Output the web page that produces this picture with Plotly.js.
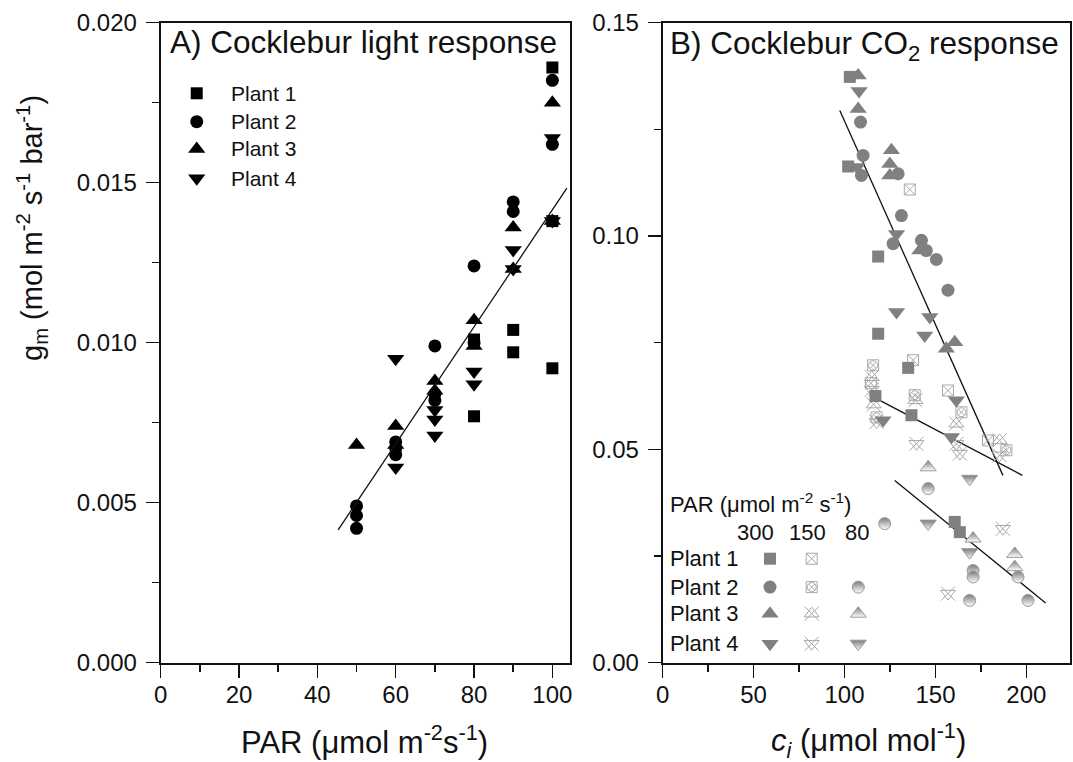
<!DOCTYPE html>
<html>
<head>
<meta charset="utf-8">
<script src="https://cdn.plot.ly/plotly-3.0.1.min.js"></script>
<style>html,body{margin:0;padding:0;background:#fff;}#chart{width:1073px;height:762px;}</style>
</head>
<body>
<div id="chart"></div>
<script>
// ---------- Panel A: light response (PAR vs gm) ----------
const plantNames = ['Plant 1', 'Plant 2', 'Plant 3', 'Plant 4'];
const A_P1_x = [100, 100, 100, 90, 90, 80, 80];
const A_P1_y = [0.0186, 0.0138, 0.0092, 0.0104, 0.0097, 0.0101, 0.0077];
const A_P2_x = [100, 100, 90, 90, 80, 80, 70, 70, 70, 60, 60, 60, 50, 50, 50];
const A_P2_y = [0.0182, 0.0162, 0.0144, 0.0141, 0.0124, 0.0100, 0.0099, 0.0084, 0.0082, 0.0069, 0.0067, 0.0065, 0.0049, 0.0046, 0.0042];
const A_P3_x = [100, 100, 90, 90, 80, 80, 70, 70, 60, 60, 50];
const A_P3_y = [0.0175, 0.0138, 0.0136, 0.0123, 0.0107, 0.0099, 0.0088, 0.0085, 0.0074, 0.0068, 0.0068];
const A_P4_x = [100, 100, 90, 90, 80, 80, 70, 70, 70, 60, 60];
const A_P4_y = [0.0164, 0.0138, 0.0129, 0.0123, 0.0091, 0.0087, 0.0079, 0.0076, 0.0071, 0.0095, 0.0061];
const fitA_x = [45.3, 103.7];
const fitA_y = [0.00415, 0.01483];

// ---------- Panel B: CO2 response (ci vs gm) ----------
const parLevels = ['300', '150', '80'];
// PAR 300
const B300_P1_x = [102.9, 102.0, 118.5, 118.5, 135.0, 117.0, 136.8, 160.6, 163.4];
const B300_P1_y = [0.1373, 0.1163, 0.0952, 0.0771, 0.0691, 0.0625, 0.0580, 0.0330, 0.0306];
const B300_P2_x = [108.8, 110.2, 109.3, 129.5, 131.3, 126.7, 142.3, 145.0, 150.5, 156.9];
const B300_P2_y = [0.1267, 0.1189, 0.1142, 0.1146, 0.1048, 0.0982, 0.0990, 0.0966, 0.0945, 0.0873];
const B300_P3_x = [107.5, 107.5, 125.8, 124.9, 124.9, 141.4, 160.6, 156.0];
const B300_P3_y = [0.1376, 0.1298, 0.1201, 0.1169, 0.1142, 0.0966, 0.0751, 0.0736];
const B300_P4_x = [108.0, 106.9, 128.6, 128.6, 146.9, 144.1, 161.5, 158.8, 121.2];
const B300_P4_y = [0.1340, 0.1162, 0.1005, 0.0822, 0.0810, 0.0767, 0.0615, 0.0529, 0.0568];
// PAR 150
const B150_P1_x = [135.9, 137.7, 156.9, 178.9, 114.5];
const B150_P1_y = [0.1109, 0.0709, 0.0638, 0.0521, 0.0655];
const B150_P2_x = [115.7, 138.6, 164.3, 189.0, 117.6];
const B150_P2_y = [0.0697, 0.0627, 0.0587, 0.0498, 0.0575];
const B150_P3_x = [115.0, 139.0, 161.5, 185.3, 116.0];
const B150_P3_y = [0.0669, 0.0615, 0.0560, 0.0521, 0.0605];
const B150_P4_x = [115.0, 117.6, 139.5, 163.4, 187.1, 156.9, 185.3, 161.5];
const B150_P4_y = [0.0640, 0.0564, 0.0513, 0.0490, 0.0314, 0.0162, 0.0486, 0.0513];
// PAR 80
const B80_P2_x = [146.0, 122.1, 170.7, 170.7, 195.4, 168.8, 200.9];
const B80_P2_y = [0.0408, 0.0326, 0.0216, 0.0201, 0.0201, 0.0146, 0.0146];
const B80_P3_x = [146.0, 170.7, 193.6, 193.6];
const B80_P3_y = [0.0458, 0.0291, 0.0255, 0.0224];
const B80_P4_x = [168.8, 146.0, 168.8];
const B80_P4_y = [0.0431, 0.0326, 0.0259];
const fitB1_x = [97.4, 187.1];
const fitB1_y = [0.1294, 0.0439];
const fitB2_x = [113.9, 197.8];
const fitB2_y = [0.0627, 0.0439];
const fitB3_x = [127.6, 210.6];
const fitB3_y = [0.0427, 0.0140];

// ---------- styles ----------
const FONT = 'Liberation Sans, Arial, Helvetica, sans-serif';
const NARROW = 'Liberation Sans Narrow, Arial Narrow, Liberation Sans, Arial, sans-serif';
const symA = ['square', 'circle', 'triangle-up', 'triangle-down'];
const sizeA = [12, 13, 15, 15];
const GRAY = '#808080';
const LGRAY = '#a8a8a8';
const HGRAY = '#9a9a9a';

function style300(i) {
  return [{symbol: symA[i], size: sizeA[i], color: GRAY, line: {width: 0}}];
}
function style150(i) {
  const base = {color: LGRAY, size: 12, line: {color: LGRAY, width: 1}};
  if (i === 0) return [Object.assign({}, base, {symbol: 'square-x-open', size: 11})];
  if (i === 1) return [Object.assign({}, base, {symbol: 'square-open', size: 11}),
                       Object.assign({}, base, {symbol: 'circle-x-open', size: 9})];
  if (i === 2) return [Object.assign({}, base, {symbol: 'triangle-up-open', size: 13}),
                       Object.assign({}, base, {symbol: 'x-thin-open', size: 14})];
  return [Object.assign({}, base, {symbol: 'triangle-down-open', size: 13}),
          Object.assign({}, base, {symbol: 'x-thin-open', size: 14})];
}
function style80(i) {
  return [{symbol: symA[i], size: sizeA[i] - 1, color: '#7a7a7a',
           gradient: {type: 'vertical', color: '#ffffff'},
           line: {color: HGRAY, width: 1}}];
}

const traces = [];
function addPoints(xs, ys, layers, xa, ya) {
  layers.forEach(m => traces.push({
    type: 'scatter', mode: 'markers', x: xs, y: ys, xaxis: xa, yaxis: ya,
    marker: m, showlegend: false, hoverinfo: 'skip', cliponaxis: false
  }));
}
function addLine(xs, ys, xa, ya) {
  traces.push({type: 'scatter', mode: 'lines', x: xs, y: ys, xaxis: xa, yaxis: ya,
    line: {color: '#111', width: 1.3}, showlegend: false, hoverinfo: 'skip'});
}

// Panel A
const A_x = [A_P1_x, A_P2_x, A_P3_x, A_P4_x];
const A_y = [A_P1_y, A_P2_y, A_P3_y, A_P4_y];
A_x.forEach((xs, i) => addPoints(xs, A_y[i], [{symbol: symA[i], size: sizeA[i], color: '#000'}], 'x', 'y'));
addLine(fitA_x, fitA_y, 'x', 'y');

// Panel B
addLine(fitB1_x, fitB1_y, 'x2', 'y2');
addLine(fitB2_x, fitB2_y, 'x2', 'y2');
addLine(fitB3_x, fitB3_y, 'x2', 'y2');
const B150x = [B150_P1_x, B150_P2_x, B150_P3_x, B150_P4_x];
const B150y = [B150_P1_y, B150_P2_y, B150_P3_y, B150_P4_y];
B150x.forEach((xs, i) => addPoints(xs, B150y[i], style150(i), 'x2', 'y2'));
const B80x = [null, B80_P2_x, B80_P3_x, B80_P4_x];
const B80y = [null, B80_P2_y, B80_P3_y, B80_P4_y];
B80x.forEach((xs, i) => { if (xs) addPoints(xs, B80y[i], style80(i), 'x2', 'y2'); });
const B300x = [B300_P1_x, B300_P2_x, B300_P3_x, B300_P4_x];
const B300y = [B300_P1_y, B300_P2_y, B300_P3_y, B300_P4_y];
B300x.forEach((xs, i) => addPoints(xs, B300y[i], style300(i), 'x2', 'y2'));

// ---------- legends (drawn on hidden overlay axes, fractions of panel) ----------
const legA_rows = [0.8897, 0.8453, 0.8027, 0.7569];
plantNames.forEach((n, i) => addPoints([0.088], [legA_rows[i]],
  [{symbol: symA[i], size: sizeA[i], color: '#000'}], 'x3', 'y3'));
const legB_rows = [0.1625, 0.1181, 0.0766, 0.0297];
const legB_cols = [0.2634, 0.3658, 0.4802];
plantNames.forEach((n, i) => {
  addPoints([legB_cols[0]], [legB_rows[i]], style300(i), 'x4', 'y4');
  addPoints([legB_cols[1]], [legB_rows[i]], style150(i), 'x4', 'y4');
  if (i > 0) addPoints([legB_cols[2]], [legB_rows[i]], style80(i), 'x4', 'y4');
});

const annotations = [];
function ann(text, x, y, opts) {
  annotations.push(Object.assign({text: text, x: x, y: y, xref: 'paper', yref: 'paper',
    showarrow: false, xanchor: 'left', yanchor: 'middle', font: {family: FONT, size: 22, color: '#111'}}, opts || {}));
}
plantNames.forEach((n, i) => ann(n, 0.1676, legA_rows[i], {xref: 'x3', yref: 'y3', font: {family: FONT, size: 21, color: '#111'}}));
plantNames.forEach((n, i) => ann(n, 0.0137, legB_rows[i], {xref: 'x4', yref: 'y4'}));
ann('PAR (μmol m<sup>-2</sup> s<sup>-1</sup>)', 0.0137, 0.249, {xref: 'x4', yref: 'y4'});
parLevels.forEach((p, k) => ann(p, [0.229, 0.3555, 0.4763][k], 0.204, {xref: 'x4', yref: 'y4', xanchor: 'center'}));

// titles
ann('A) Cocklebur light response', 168 / 1073, 1 - 42 / 762, {font: {family: FONT, size: 31.5, color: '#111'}});
ann('B) Cocklebur CO<sub>2</sub> response', 668 / 1073, 1 - 45 / 762, {font: {family: FONT, size: 31.5, color: '#111'}});
// axis titles
const TFONT = {family: NARROW, size: 31, color: '#111'};
ann('PAR (μmol m<sup>-2</sup>s<sup>-1</sup>)', 364 / 1073, 1 - 740 / 762, {xanchor: 'center', font: TFONT});
ann('<i>c</i><sub><i>i</i></sub> (μmol mol<sup>-1</sup>)', 868 / 1073, 1 - 740 / 762, {xanchor: 'center', font: TFONT});
ann('g<sub>m</sub> (mol m<sup>-2</sup> s<sup>-1</sup> bar<sup>-1</sup>)', 32 / 1073, 1 - 228 / 762,
    {xanchor: 'center', textangle: -90, font: {family: NARROW, size: 29, color: '#111'}});

const yDom = [99.3 / 762, 739.3 / 762];
const xDomA = [160.7 / 1073, 570 / 1073];
const xDomB = [662.7 / 1073, 1070 / 1073];
function axis(domain, range, dtick, minor, fmt, anchor, standoff) {
  return {domain: domain, range: range, anchor: anchor, dtick: dtick, tick0: 0, tickformat: fmt,
    ticks: 'outside', ticklen: 13, tickwidth: 1.5, tickcolor: '#111', ticklabelstandoff: standoff,
    minor: {dtick: minor, tick0: 0, ticks: 'outside', ticklen: 7, tickwidth: 1.5, tickcolor: '#111', showgrid: false},
    showline: true, linewidth: 2, linecolor: '#111', mirror: true, showgrid: false, zeroline: false,
    tickfont: {family: FONT, size: 24, color: '#111'}, fixedrange: true};
}
function hidden(domain, anchor, overlaying) {
  return {domain: domain, range: [0, 1], anchor: anchor, overlaying: overlaying, visible: false, fixedrange: true};
}

const layout = {
  width: 1073, height: 762,
  margin: {l: 0, r: 0, t: 0, b: 0},
  paper_bgcolor: '#fff', plot_bgcolor: '#fff',
  showlegend: false,
  xaxis: axis(xDomA, [0, 104.5], 20, 10, '', 'y', -4),
  yaxis: axis(yDom, [0, 0.02], 0.005, 0.0025, '.3f', 'x', 4),
  xaxis2: axis(xDomB, [0, 224], 50, 25, '', 'y2', -4),
  yaxis2: axis(yDom, [0, 0.15], 0.05, 0.025, '.2f', 'x2', 4),
  xaxis3: hidden(xDomA, 'y3', 'x'),
  yaxis3: hidden(yDom, 'x3', 'y'),
  xaxis4: hidden(xDomB, 'y4', 'x2'),
  yaxis4: hidden(yDom, 'x4', 'y2'),
  annotations: annotations
};

Plotly.newPlot('chart', traces, layout, {staticPlot: true, displayModeBar: false});
</script>
</body>
</html>
